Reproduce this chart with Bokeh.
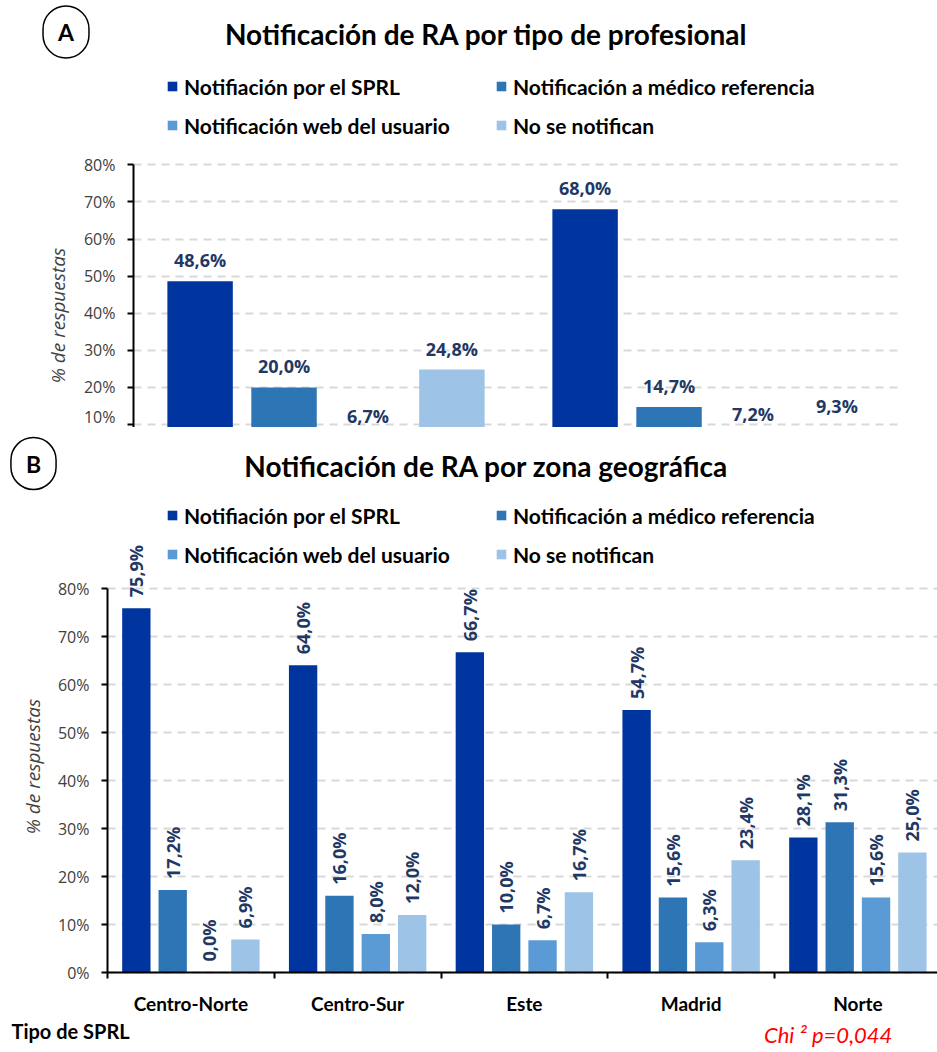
from math import pi
from bokeh.plotting import figure
from bokeh.models import (ColumnDataSource, Range1d, LinearAxis, FixedTicker, Grid,
                          Label, LabelSet, Legend, LegendItem, PrintfTickFormatter)
from bokeh.layouts import column
from bokeh.transform import dodge
from bokeh.core.properties import value
from bokeh.embed import file_html
from bokeh.resources import INLINE

# ---------------- data ----------------
series_names = ["Notifiación por el SPRL", "Notificación a médico referencia",
                "Notificación web del usuario", "No se notifican"]
series_colors = ["#0035A0", "#2E75B6", "#5B9BD5", "#9DC3E6"]

prof_groups = ["Profesional 1", "Profesional 2"]
prof_sprl = [48.6, 68.0]
prof_medico = [20.0, 14.7]
prof_web = [6.7, 7.2]
prof_no = [24.8, 9.3]

zones = ["Centro-Norte", "Centro-Sur", "Este", "Madrid", "Norte"]
zone_sprl = [75.9, 64.0, 66.7, 54.7, 28.1]
zone_medico = [17.2, 16.0, 10.0, 15.6, 31.3]
zone_web = [0.0, 8.0, 6.7, 6.3, 15.6]
zone_no = [6.9, 12.0, 16.7, 23.4, 25.0]

y_ticks_a = [10, 20, 30, 40, 50, 60, 70, 80]
y_ticks_b = [0, 10, 20, 30, 40, 50, 60, 70, 80]

title_a = "Notificación de RA por tipo de profesional"
title_b = "Notificación de RA por zona geográfica"
y_title = "% de respuestas"
x_title = "Tipo de SPRL"
stat_note = "Chi \u00b2  p=0,044"

# ---------------- style / geometry ----------------
OFFSETS = [-0.327, -0.109, 0.109, 0.327]
BAR_W = 0.17
LABEL_COLOR = "#1F3864"
TICK_COLOR = "#404040"
GRID_COLOR = "#D9D9D9"
W = 937
HA, HB = 427, 625           # panel heights (page rows 0..427, 427..1052)

# panel A plot area: groups 385 px wide from x=133, 80% at y=164.3, 3.71 px per %
A_X0, A_GPX, A_Y80, A_PPU = 133, 385.0, 164.3, 3.71
# panel B plot area: groups 166.75 px wide from x=107, 80% at page y=588, 4.8 px per %
B_X0, B_GPX, B_Y80, B_PPU = 107, 166.75, 588.0 - HA, 4.8


def fmt(v):
    return f"{v:.1f}%".replace(".", ",")


def make_fig(height, x0, gpx, y80, ppu, page_top):
    xr = Range1d(-x0 / gpx, (W - x0) / gpx)
    yr = Range1d(80 - (height - y80) / ppu, 80 + y80 / ppu)
    p = figure(width=W, height=height, x_range=xr, y_range=yr,
               x_axis_location=None, y_axis_location=None,
               output_backend="svg", toolbar_location=None,
               min_border=0, min_border_left=0, min_border_right=0,
               min_border_top=0, min_border_bottom=0)
    p.outline_line_color = None
    p.grid.visible = False
    p.extra_x_ranges = {"px": Range1d(0, W)}
    p.extra_y_ranges = {"py": Range1d(page_top + height, page_top)}
    return p


def style_axis(ax):
    ax.axis_line_color = "black"
    ax.axis_line_width = 2
    ax.major_tick_line_color = "black"
    ax.major_tick_line_width = 2
    ax.major_tick_out = 6
    ax.major_tick_in = 0
    ax.minor_tick_line_color = None


def add_y(p, ticks, lo, n_groups):
    ax = LinearAxis(fixed_location=0, bounds=(lo, 80),
                    ticker=FixedTicker(ticks=ticks),
                    formatter=PrintfTickFormatter(format="%d%%"))
    style_axis(ax)
    ax.major_label_text_font = "Open Sans"
    ax.major_label_text_font_size = "16px"
    ax.major_label_text_color = TICK_COLOR
    ax.major_label_standoff = 12
    p.add_layout(ax, "left")
    g = Grid(dimension=1, ticker=FixedTicker(ticks=ticks), cross_bounds=(0, n_groups),
             grid_line_color=GRID_COLOR, grid_line_width=2, grid_line_dash="8 6")
    p.add_layout(g)


def add_bars(p, n, series_values, rotated):
    renderers = []
    for vals, name, color, off in zip(series_values, series_names, series_colors, OFFSETS):
        src = ColumnDataSource(dict(x=[k + 0.5 for k in range(n)], top=vals,
                                    lab=[fmt(v) for v in vals]))
        r = p.vbar(x=dodge("x", off, range=p.x_range), top="top", bottom=0,
                   width=BAR_W, source=src, fill_color=color, line_color=None)
        renderers.append(r)
        common = dict(x=dodge("x", off, range=p.x_range), y="top", text="lab", source=src,
                      text_font=value("Open Sans"), text_font_style="bold",
                      text_font_size="18px", text_color=LABEL_COLOR, text_baseline="middle")
        if rotated:
            ls = LabelSet(angle=pi / 2, text_align="left", y_offset=11, **common)
        else:
            ls = LabelSet(text_align="center", y_offset=21, **common)
        p.add_layout(ls)
    return renderers


def add_legends(p, renderers, loc1, loc2):
    for idxs, loc in (((0, 2), loc1), ((1, 3), loc2)):
        leg = Legend(items=[LegendItem(label=series_names[i], renderers=[renderers[i]]) for i in idxs],
                     location=loc, orientation="vertical",
                     glyph_width=12, glyph_height=12, label_standoff=6,
                     padding=0, margin=0, spacing=13, label_height=26,
                     label_text_font="Lato", label_text_font_style="bold",
                     label_text_font_size="21px", label_text_color="black",
                     border_line_color=None, background_fill_alpha=0)
        p.add_layout(leg)


def page_label(p, x, y, text, **kw):
    base = dict(x=x, y=y, text=text, x_range_name="px", y_range_name="py",
                text_align="center", text_baseline="middle", text_color="black")
    base.update(kw)
    p.add_layout(Label(**base))


def circle_letter(p, x, y, letter):
    page_label(p, x, y, letter, text_font="Lato", text_font_style="bold",
               text_font_size="23px", border_line_color="black", border_line_width=1.5,
               border_radius=23, padding=dict(left=15, right=15, top=12, bottom=12))


# ---------------- panel A ----------------
pA = make_fig(HA, A_X0, A_GPX, A_Y80, A_PPU, 0)
add_y(pA, y_ticks_a, pA.y_range.start, len(prof_groups))
rA = add_bars(pA, len(prof_groups), [prof_sprl, prof_medico, prof_web, prof_no], rotated=False)
add_legends(pA, rA, (166, 289), (495, 289))
page_label(pA, 486, 33, title_a, text_font="Lato", text_font_style="bold", text_font_size="28px")
circle_letter(pA, 65.5, 31.5, "A")
page_label(pA, 57, 315, y_title, angle=pi / 2, text_font="Open Sans",
           text_font_style="italic", text_font_size="19px", text_color=TICK_COLOR)

# ---------------- panel B ----------------
pB = make_fig(HB, B_X0, B_GPX, B_Y80, B_PPU, HA)
add_y(pB, y_ticks_b, 0, pB.x_range.end)
xa = LinearAxis(fixed_location=0, bounds=(0, pB.x_range.end),
                ticker=FixedTicker(ticks=list(range(len(zones) + 1))),
                major_label_overrides={k: "" for k in range(len(zones) + 1)})
style_axis(xa)
pB.add_layout(xa, "below")
cat_axis = LinearAxis(fixed_location=0,
                      ticker=FixedTicker(ticks=[k + 0.5 for k in range(len(zones))]),
                      major_label_overrides={k + 0.5: z for k, z in enumerate(zones)},
                      axis_line_color=None, major_tick_line_color=None,
                      minor_tick_line_color=None, major_tick_out=0, major_tick_in=0,
                      major_label_text_font="Lato", major_label_text_font_style="bold",
                      major_label_text_font_size="19px", major_label_text_color="black",
                      major_label_standoff=19)
pB.add_layout(cat_axis, "below")
rB = add_bars(pB, len(zones), [zone_sprl, zone_medico, zone_web, zone_no], rotated=True)
add_legends(pB, rB, (166, 485), (495, 485))
page_label(pB, 486, 465, title_b, text_font="Lato", text_font_style="bold", text_font_size="28px")
circle_letter(pB, 33, 463, "B")
page_label(pB, 32, 766, y_title, angle=pi / 2, text_font="Open Sans",
           text_font_style="italic", text_font_size="19px", text_color=TICK_COLOR)
page_label(pB, 11, 1030, x_title, text_align="left", text_font="Lato",
           text_font_style="bold", text_font_size="20px")
page_label(pB, 897, 1034, stat_note, text_align="right",
           text_font="Lato", text_font_style="italic", text_font_size="22px",
           text_color="#FF0000")

layout = column(pA, pB, spacing=0)
open("out.html", "w").write(file_html(layout, INLINE))
